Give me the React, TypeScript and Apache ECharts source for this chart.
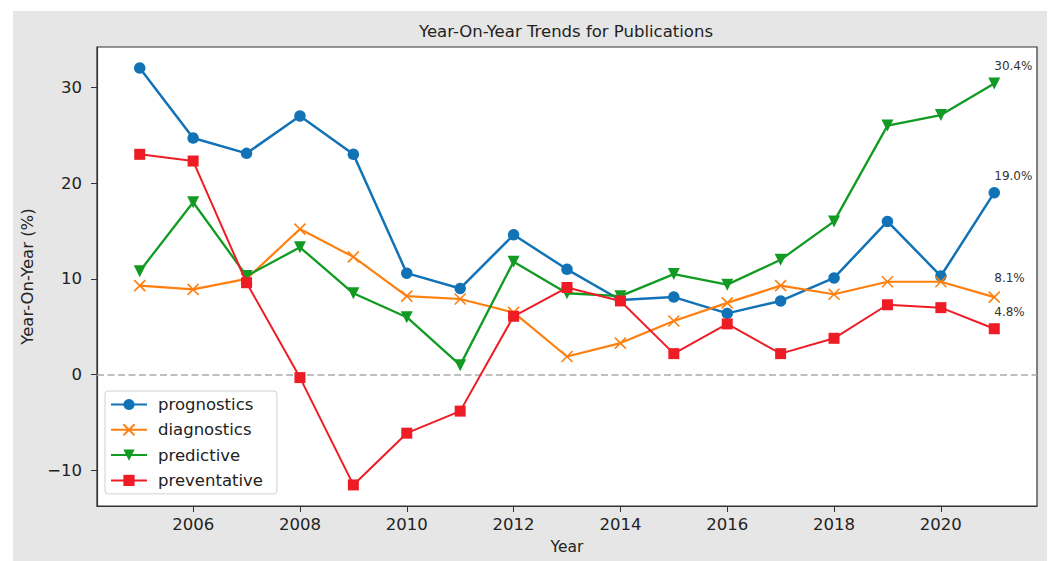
import React, { useEffect, useRef } from "react";
import * as echarts from "echarts";

const years = [2005, 2006, 2007, 2008, 2009, 2010, 2011, 2012, 2013, 2014, 2015, 2016, 2017, 2018, 2019, 2020, 2021];
const prognostics = [32.0, 24.7, 23.1, 27.0, 23.0, 10.6, 9.0, 14.6, 11.0, 7.8, 8.1, 6.4, 7.7, 10.1, 16.0, 10.3, 19.0];
const diagnostics = [9.3, 8.9, 10.0, 15.2, 12.3, 8.2, 7.9, 6.5, 1.9, 3.3, 5.6, 7.5, 9.3, 8.4, 9.7, 9.7, 8.1];
const predictive = [10.8, 18.0, 10.3, 13.3, 8.5, 6.0, 1.0, 11.8, 8.5, 8.2, 10.5, 9.4, 12.0, 16.0, 26.0, 27.1, 30.4];
const preventative = [23.0, 22.3, 9.6, -0.3, -11.5, -6.1, -3.8, 6.1, 9.1, 7.7, 2.2, 5.3, 2.2, 3.8, 7.3, 7.0, 4.8];
const xTicks = [2006, 2008, 2010, 2012, 2014, 2016, 2018, 2020];
const yTicks = [-10, 0, 10, 20, 30];

const FONT = "DejaVu Sans";
const X_PATH = "path://M0,0L10,10M10,0L0,10";

function mkSeries(name: string, values: number[], color: string, symbol: string, opts: any = {}) {
  const last = values.length - 1;
  return {
    name,
    type: "line",
    data: values.map((v, i) => {
      const item: any = { value: [years[i], v] };
      if (i === last) {
        item.label = {
          show: true,
          position: "top",
          distance: 5,
          align: "left",
          formatter: v.toFixed(1) + "%",
          fontFamily: FONT,
          fontSize: 12,
          color: "#333",
        };
      }
      return item;
    }),
    symbol,
    symbolSize: opts.symbolSize ?? 10,
    symbolRotate: opts.symbolRotate ?? 0,
    showAllSymbol: true,
    lineStyle: { color, width: opts.lineWidth ?? 2 },
    itemStyle: opts.itemStyle ?? { color },
    z: opts.z ?? 3,
    ...(opts.extra || {}),
  };
}

export default function App() {
  const ref = useRef<HTMLDivElement>(null);
  useEffect(() => {
    document.body.style.margin = "0";
    const chart = echarts.init(ref.current!, null, { renderer: "svg" });
    const blue = "#1272b6";
    const orange = "#ff7f0e";
    const green = "#119b22";
    const red = "#ee1c25";
    chart.setOption({
      animation: false,
      backgroundColor: "#ffffff",
      textStyle: { fontFamily: FONT },
      graphic: [
        {
          type: "rect",
          z: -100,
          silent: true,
          shape: { x: 13, y: 11, width: 1034, height: 550 },
          style: { fill: "#e6e6e6" },
        },
      ],
      title: {
        text: "Year-On-Year Trends for Publications",
        left: 566,
        top: 23,
        textAlign: "center",
        padding: 0,
        textStyle: { fontFamily: FONT, fontSize: 16.5, fontWeight: "normal", color: "#222" },
      },
      grid: {
        left: 97,
        top: 47,
        right: 15,
        bottom: 55,
        show: true,
        backgroundColor: "#ffffff",
        borderColor: "#333",
        borderWidth: 1.2,
      },
      legend: {
        orient: "vertical",
        left: 105,
        top: 391,
        width: 168,
        backgroundColor: "#ffffff",
        borderColor: "#d0d0d0",
        borderWidth: 1,
        borderRadius: 3,
        padding: [5, 14, 5, 5],
        itemWidth: 36,
        itemHeight: 14,
        itemGap: 8.3,
        textStyle: { fontFamily: FONT, fontSize: 16.5, lineHeight: 17, color: "#222", padding: [0, 0, 0, 6] },
        data: ["prognostics", "diagnostics", "predictive", "preventative"],
      },
      xAxis: {
        type: "value",
        min: 2004.2,
        max: 2021.8,
        name: "Year",
        nameLocation: "middle",
        nameGap: 33,
        nameTextStyle: { fontFamily: FONT, fontSize: 15.5, color: "#222" },
        splitLine: { show: false },
        axisLine: { show: true, onZero: false, lineStyle: { color: "#333", width: 1.2 } },
        axisTick: { show: true, length: 6, lineStyle: { color: "#333" }, customValues: xTicks },
        axisLabel: {
          customValues: xTicks,
          margin: 10,
          fontFamily: FONT,
          fontSize: 16.5,
          color: "#222",
          formatter: (v: number) => String(v),
        },
      },
      yAxis: {
        type: "value",
        min: -13.7,
        max: 34.2,
        name: "Year-On-Year (%)",
        nameLocation: "middle",
        nameGap: 54,
        nameTextStyle: { fontFamily: FONT, fontSize: 16.5, color: "#222" },
        splitLine: { show: false },
        axisLine: { show: true, onZero: false, lineStyle: { color: "#333", width: 1.2 } },
        axisTick: { show: true, length: 6, lineStyle: { color: "#333" }, customValues: yTicks },
        axisLabel: {
          customValues: yTicks,
          margin: 15,
          fontFamily: FONT,
          fontSize: 16.5,
          color: "#222",
          formatter: (v: number) => (v < 0 ? "\u2212" + Math.abs(v) : String(v)),
        },
      },
      series: [
        mkSeries("prognostics", prognostics, blue, "circle", {
          symbolSize: 11.5,
          lineWidth: 2.5,
          z: 3,
          extra: {
            markLine: {
              silent: true,
              symbol: "none",
              label: { show: false },
              lineStyle: { color: "#aaaaaa", type: [7, 3.5], width: 1.5 },
              emphasis: { disabled: true },
              data: [{ yAxis: 0 }],
            },
          },
        }),
        mkSeries("diagnostics", diagnostics, orange, X_PATH, {
          symbolSize: 11,
          lineWidth: 2.2,
          z: 4,
          itemStyle: { color: "none", borderColor: orange, borderWidth: 1.6 },
        }),
        mkSeries("predictive", predictive, green, "triangle", {
          symbolSize: 12,
          symbolRotate: 180,
          lineWidth: 2.3,
          z: 5,
        }),
        mkSeries("preventative", preventative, red, "rect", {
          symbolSize: 11,
          lineWidth: 2,
          z: 6,
        }),
      ],
    });
    return () => chart.dispose();
  }, []);
  return <div ref={ref} style={{ position: "fixed", left: 0, top: 0, width: 1052, height: 561 }} />;
}
